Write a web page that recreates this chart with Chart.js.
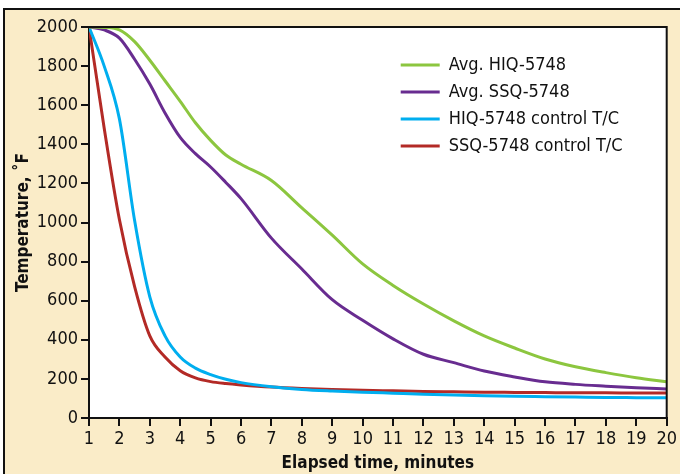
<!DOCTYPE html>
<html>
<head>
<meta charset="utf-8">
<script src="https://cdn.jsdelivr.net/npm/chart.js@4.4.0/dist/chart.umd.min.js"></script>
<style>
  html, body { margin: 0; padding: 0; background: #fff; }
  canvas { display: block; }
</style>
</head>
<body>
<canvas id="chart" width="680" height="474"></canvas>
<script>
// elapsed time, minutes
const times = [1, 1.5, 2, 2.5, 3, 3.5, 4, 4.5, 5, 5.5, 6, 7, 8, 9, 10, 11, 12, 13, 14, 15, 16, 17, 18, 19, 20];

// temperatures, deg F
const avgHiq = [2000, 1998, 1985, 1925, 1830, 1725, 1620, 1510, 1420, 1345, 1298, 1215, 1075, 935, 788, 678, 583, 497, 420, 358, 302, 262, 232, 206, 185];
const avgSsq = [2000, 1985, 1943, 1835, 1708, 1560, 1435, 1352, 1284, 1205, 1122, 920, 762, 605, 500, 405, 326, 283, 240, 210, 185, 172, 163, 155, 148];
const hiqControl = [2000, 1800, 1530, 1010, 620, 420, 312, 255, 222, 198, 181, 160, 146, 138, 132, 127, 122, 118, 114, 111, 109, 107, 105, 104, 103];
const ssqControl = [2000, 1482, 1015, 672, 420, 312, 242, 205, 186, 176, 169, 158, 151, 146, 142, 139, 136, 134, 132, 131, 130, 129, 129, 128, 128];

const seriesNames = ['Avg. HIQ-5748', 'Avg. SSQ-5748', 'HIQ-5748 control T/C', 'SSQ-5748 control T/C'];
const seriesColors = ['#8cc63f', '#682c90', '#00aeef', '#b32a26'];

const FONT = '"DejaVu Sans Condensed", "Liberation Sans Narrow", "Liberation Sans", sans-serif';
const INK = '#111';

// cream panel, white plot area, top/right border; legend moved inside the plot
const framePlugin = {
  id: 'frame',
  afterLayout(chart) {
    const a = chart.chartArea;
    chart.legend.left = a.right - 275;
    chart.legend.top = a.top + 20;
  },
  beforeDraw(chart) {
    const ctx = chart.ctx, a = chart.chartArea;
    ctx.save();
    ctx.fillStyle = '#fff';
    ctx.fillRect(0, 0, chart.width, chart.height);
    ctx.fillStyle = '#faecc8';
    ctx.fillRect(4, 9, chart.width, chart.height);
    ctx.strokeStyle = INK;
    ctx.lineWidth = 2;
    ctx.strokeRect(4, 9, chart.width + 10, chart.height + 10);
    ctx.fillStyle = '#fff';
    ctx.fillRect(a.left, a.top, a.right - a.left, a.bottom - a.top);
    ctx.restore();
  },
  afterDatasetsDraw(chart) {
    const ctx = chart.ctx, a = chart.chartArea;
    ctx.save();
    ctx.strokeStyle = INK;
    ctx.lineWidth = 2;
    ctx.beginPath();
    ctx.moveTo(a.left, a.top);
    ctx.lineTo(a.right, a.top);
    ctx.lineTo(a.right, a.bottom);
    ctx.stroke();
    ctx.restore();
  }
};

const allSeries = [avgHiq, avgSsq, hiqControl, ssqControl];

new Chart(document.getElementById('chart'), {
  type: 'line',
  data: {
    datasets: allSeries.map((vals, i) => ({
      label: seriesNames[i],
      data: times.map((t, j) => ({ x: t, y: vals[j] })),
      borderColor: seriesColors[i],
      backgroundColor: seriesColors[i],
      borderWidth: 3,
      pointRadius: 0,
      cubicInterpolationMode: 'monotone',
      fill: false
    }))
  },
  options: {
    responsive: false,
    animation: false,
    layout: { padding: { top: 27, right: 11, bottom: 0, left: 0 } },
    plugins: {
      tooltip: { enabled: false },
      legend: {
        position: 'chartArea',
        align: 'start',
        labels: {
          usePointStyle: true,
          pointStyle: 'line',
          pointStyleWidth: 39,
          padding: 9,
          color: INK,
          font: { family: FONT, size: 18 }
        }
      }
    },
    scales: {
      x: {
        type: 'linear',
        min: 1,
        max: 20,
        afterFit(scale) { scale.height = 56; },
        ticks: {
          stepSize: 1,
          autoSkip: false,
          maxRotation: 0,
          padding: 3,
          color: INK,
          font: { family: FONT, size: 18 }
        },
        grid: { drawOnChartArea: false, drawTicks: true, tickLength: 8, color: INK, lineWidth: 2 },
        border: { display: true, color: INK, width: 2 },
        title: {
          display: true,
          text: 'Elapsed time, minutes',
          color: INK,
          padding: { top: 0, bottom: 1.5 },
          font: { family: FONT, size: 17, weight: 'bold', lineHeight: 1 }
        }
      },
      y: {
        min: 0,
        max: 2000,
        afterFit(scale) { scale.width = 89; },
        ticks: {
          stepSize: 200,
          padding: 3,
          color: INK,
          font: { family: FONT, size: 18 },
          callback: v => String(v)
        },
        grid: { drawOnChartArea: false, drawTicks: true, tickLength: 8, color: INK, lineWidth: 2 },
        border: { display: true, color: INK, width: 2 },
        title: {
          display: true,
          text: 'Temperature, ˚F',
          color: INK,
          padding: { top: 15.5, bottom: 0 },
          font: { family: FONT, size: 17, weight: 'bold', lineHeight: 1 }
        }
      }
    }
  },
  plugins: [framePlugin]
});
</script>
</body>
</html>
